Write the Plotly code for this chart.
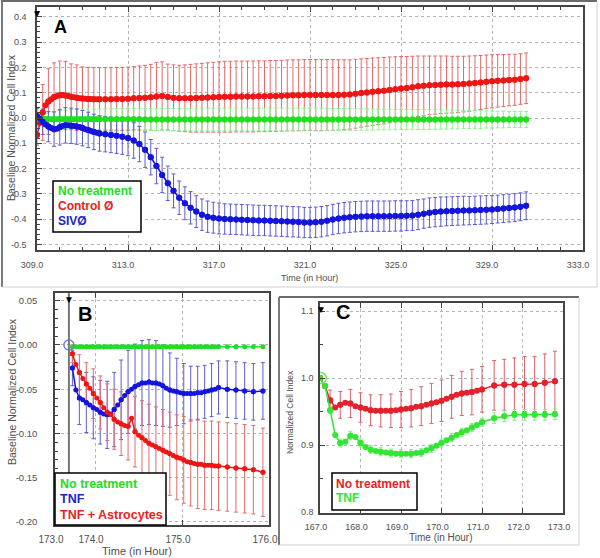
import plotly.graph_objects as go

W, H = 600, 558
FONT = "Liberation Sans, Arial, sans-serif"

# ---------------- Panel A data ----------------
A_TIME_DENSE = [309.0, 309.125, 309.25, 309.375, 309.5, 309.625, 309.75, 309.875,
                310.0, 310.125, 310.25, 310.375, 310.5, 310.625, 310.75, 310.875,
                311.0, 311.125, 311.25, 311.375, 311.5, 311.625, 311.75]
A_TIME_SPARSE = [312.0, 312.25, 312.5, 312.75, 313.0, 313.25, 313.5, 313.75, 314.0, 314.25,
                 314.5, 314.75, 315.0, 315.25, 315.5, 315.75, 316.0, 316.25, 316.5, 316.75,
                 317.0, 317.25, 317.5, 317.75, 318.0, 318.25, 318.5, 318.75, 319.0, 319.25,
                 319.5, 319.75, 320.0, 320.25, 320.5, 320.75, 321.0, 321.25, 321.5, 321.75,
                 322.0, 322.25, 322.5, 322.75, 323.0, 323.25, 323.5, 323.75, 324.0, 324.25,
                 324.5, 324.75, 325.0, 325.25, 325.5, 325.75, 326.0, 326.25, 326.5, 326.75,
                 327.0, 327.25, 327.5, 327.75, 328.0, 328.25, 328.5, 328.75, 329.0, 329.25,
                 329.5, 329.75, 330.0, 330.25, 330.5]
A_TIME = A_TIME_DENSE + A_TIME_SPARSE

A_NO_TREATMENT = [0.0, -0.002, -0.003, -0.004, -0.005, -0.005, -0.005, -0.005, -0.005, -0.005,
                  -0.005, -0.005, -0.005, -0.005, -0.005, -0.005, -0.005, -0.005, -0.005, -0.005,
                  -0.005, -0.005, -0.005,
                  -0.005, -0.005, -0.005, -0.005, -0.005, -0.005, -0.005, -0.006, -0.006, -0.006,
                  -0.006, -0.006, -0.006, -0.006, -0.006, -0.006, -0.006, -0.006, -0.006, -0.006,
                  -0.006, -0.006, -0.006, -0.006, -0.006, -0.006, -0.006, -0.006, -0.006, -0.006,
                  -0.006, -0.006, -0.006, -0.006, -0.006, -0.006, -0.006, -0.006, -0.006, -0.006,
                  -0.006, -0.006, -0.006, -0.006, -0.006, -0.006, -0.006, -0.006, -0.006, -0.006,
                  -0.006, -0.006, -0.006, -0.006, -0.006, -0.006, -0.006, -0.006, -0.006, -0.006,
                  -0.006, -0.006, -0.006, -0.006, -0.006, -0.006, -0.006, -0.006, -0.006, -0.006,
                  -0.006, -0.006, -0.006, -0.006, -0.006]
A_NO_TREATMENT_ERR = [0.005, 0.01, 0.015, 0.02, 0.025, 0.028, 0.03, 0.032, 0.034, 0.035,
                      0.036, 0.037, 0.038, 0.038, 0.039, 0.039, 0.04, 0.04, 0.04, 0.04,
                      0.04, 0.04, 0.04,
                      0.041, 0.041, 0.042, 0.042, 0.042, 0.043, 0.043, 0.043, 0.043, 0.043,
                      0.044, 0.044, 0.044, 0.044, 0.044, 0.044, 0.045, 0.045, 0.045, 0.045,
                      0.045, 0.045, 0.045, 0.045, 0.045, 0.045, 0.045, 0.045, 0.045, 0.045,
                      0.045, 0.045, 0.045, 0.045, 0.045, 0.045, 0.045, 0.045, 0.045, 0.044,
                      0.044, 0.044, 0.043, 0.043, 0.043, 0.042, 0.042, 0.042, 0.041, 0.041,
                      0.041, 0.04, 0.04, 0.04, 0.04, 0.04, 0.04, 0.039, 0.039, 0.038,
                      0.038, 0.037, 0.037, 0.036, 0.036, 0.035, 0.035, 0.034, 0.034, 0.033,
                      0.033, 0.032, 0.032, 0.032, 0.032]
A_CONTROL = [-0.067, -0.02, 0.022, 0.05, 0.065, 0.074, 0.083, 0.087, 0.09, 0.091,
             0.089, 0.087, 0.084, 0.082, 0.080, 0.078, 0.077, 0.076, 0.075, 0.075,
             0.074, 0.074, 0.074,
             0.074, 0.074, 0.075, 0.075, 0.076,
             0.078, 0.079, 0.080, 0.082, 0.085, 0.087,
             0.083, 0.080, 0.078, 0.078, 0.078, 0.079,
             0.080, 0.081, 0.082, 0.083, 0.084, 0.084, 0.085, 0.085, 0.085, 0.085,
             0.086, 0.086, 0.087, 0.087, 0.088, 0.089, 0.090, 0.090,
             0.091, 0.091, 0.091, 0.091, 0.091, 0.091, 0.091, 0.092, 0.093,
             0.096, 0.099, 0.101, 0.104, 0.106, 0.108, 0.111, 0.114, 0.117,
             0.119, 0.122, 0.125, 0.127, 0.129, 0.130, 0.131, 0.132,
             0.132, 0.133, 0.134, 0.136, 0.138, 0.140, 0.143, 0.145, 0.147, 0.148,
             0.150, 0.151, 0.154, 0.157]
A_CONTROL_ERR = [0.04, 0.08, 0.11, 0.125, 0.13, 0.13, 0.135, 0.135, 0.135, 0.135,
                 0.135, 0.135, 0.13, 0.13, 0.13, 0.13, 0.125, 0.125, 0.125, 0.125,
                 0.125, 0.125, 0.125,
                 0.125, 0.125, 0.125, 0.125, 0.125,
                 0.125, 0.127, 0.128, 0.13, 0.135, 0.135,
                 0.13, 0.13, 0.13, 0.132, 0.134, 0.135,
                 0.136, 0.137, 0.138, 0.139, 0.14, 0.14, 0.14, 0.14, 0.14, 0.14,
                 0.14, 0.14, 0.14, 0.14, 0.14, 0.14, 0.14, 0.14,
                 0.14, 0.14, 0.14, 0.14, 0.14, 0.14, 0.139, 0.138, 0.137,
                 0.136, 0.135, 0.134, 0.133, 0.132, 0.131, 0.13, 0.128, 0.126,
                 0.124, 0.122, 0.12, 0.118, 0.116, 0.115, 0.114, 0.113,
                 0.112, 0.111, 0.11, 0.109, 0.108, 0.107, 0.106, 0.105, 0.104, 0.103,
                 0.102, 0.101, 0.1, 0.1]
A_SIV = [0.008, -0.002, -0.015, -0.026, -0.034, -0.040, -0.044, -0.042, -0.037, -0.032,
         -0.029, -0.029, -0.031, -0.032, -0.034, -0.036, -0.040, -0.044, -0.047, -0.051,
         -0.055, -0.058, -0.061,
         -0.064, -0.067, -0.070, -0.074, -0.079,
         -0.089, -0.103, -0.125, -0.155, -0.19, -0.225,
         -0.258, -0.288, -0.315, -0.337, -0.355, -0.37,
         -0.382, -0.39, -0.394, -0.397, -0.399, -0.400, -0.401, -0.402,
         -0.403, -0.404, -0.405, -0.405, -0.406, -0.407, -0.408, -0.409, -0.41, -0.411,
         -0.413, -0.413, -0.412, -0.41, -0.406, -0.401, -0.397, -0.394, -0.392,
         -0.39, -0.389, -0.388, -0.388, -0.388, -0.388, -0.388, -0.387, -0.387,
         -0.386, -0.385, -0.382, -0.378, -0.374, -0.372, -0.370, -0.369,
         -0.368, -0.367, -0.366, -0.366, -0.365, -0.364, -0.363, -0.362, -0.36, -0.358,
         -0.356, -0.354, -0.351, -0.347]
A_SIV_ERR = [0.03, 0.04, 0.05, 0.055, 0.06, 0.065, 0.068, 0.07, 0.07, 0.07,
             0.07, 0.07, 0.07, 0.07, 0.07, 0.07, 0.07, 0.07, 0.07, 0.07,
             0.07, 0.07, 0.07,
             0.07, 0.07, 0.07, 0.07, 0.07, 0.07, 0.07, 0.07, 0.07, 0.07,
             0.07, 0.068, 0.067, 0.066, 0.065, 0.064, 0.063, 0.062, 0.062, 0.061,
             0.061, 0.06, 0.06, 0.06, 0.06, 0.06, 0.06, 0.06, 0.06, 0.06,
             0.06, 0.06, 0.06, 0.06, 0.06, 0.06, 0.06, 0.06, 0.06, 0.06,
             0.06, 0.06, 0.06, 0.06, 0.06, 0.06, 0.06, 0.06, 0.06, 0.06,
             0.06, 0.06, 0.06, 0.059, 0.059, 0.059, 0.058, 0.058, 0.058, 0.058,
             0.057, 0.057, 0.057, 0.057, 0.056, 0.056, 0.056, 0.056, 0.055, 0.055,
             0.055, 0.055, 0.055, 0.055, 0.055]
A_X_TICKS = [309.0, 313.0, 317.0, 321.0, 325.0, 329.0, 333.0]
A_X_LABELS = ["309.0", "313.0", "317.0", "321.0", "325.0", "329.0", "333.0"]
A_Y_TICKS = [0.4, 0.3, 0.2, 0.1, 0.0, -0.1, -0.2, -0.3, -0.4, -0.5]
A_Y_LABELS = ["0.4", "0.3", "0.2", "0.1", "0.0", "-0.1", "-0.2", "-0.3", "-0.4", "-0.5"]

# ---------------- Panel B data ----------------
B_TIME_DENSE = [173.74, 173.78, 173.82, 173.86, 173.90, 173.94, 173.98, 174.02, 174.06, 174.10,
                174.14, 174.18, 174.22, 174.26, 174.30, 174.34, 174.38, 174.42, 174.46, 174.50,
                174.54, 174.58, 174.62, 174.66, 174.70, 174.74, 174.78, 174.82, 174.86, 174.90,
                174.94, 174.98, 175.02, 175.06, 175.10, 175.14, 175.18, 175.22, 175.26, 175.30,
                175.34, 175.38, 175.42]
B_TIME_SPARSE = [175.52, 175.62, 175.72, 175.82, 175.93]
B_TIME = B_TIME_DENSE + B_TIME_SPARSE
B_NO_TREATMENT = [-0.002, -0.002, -0.002, -0.002, -0.002, -0.002, -0.002, -0.002, -0.002, -0.002,
                  -0.002, -0.002, -0.002, -0.002, -0.002, -0.002, -0.002, -0.002, -0.002, -0.002,
                  -0.002, -0.002, -0.002, -0.002, -0.002, -0.002, -0.002, -0.002, -0.002, -0.002,
                  -0.002, -0.002, -0.002, -0.002, -0.002, -0.002, -0.002, -0.002, -0.002, -0.002,
                  -0.002, -0.002, -0.002, -0.002, -0.002, -0.002, -0.002, -0.002]
B_TNF = [-0.026, -0.051, -0.060, -0.062, -0.065, -0.068, -0.071, -0.073, -0.076, -0.078,
         -0.079, -0.078, -0.073, -0.068, -0.062, -0.057, -0.053, -0.050, -0.047, -0.045,
         -0.043, -0.043, -0.042, -0.043, -0.043, -0.044, -0.046, -0.049, -0.051, -0.052,
         -0.053, -0.054, -0.055, -0.055, -0.055, -0.055, -0.054, -0.054, -0.053, -0.052,
         -0.051, -0.050, -0.048, -0.050, -0.051, -0.052, -0.053, -0.052]
B_TNF_ERR = [0.02, 0.025, 0.03, 0.032, 0.034, 0.035, 0.035, 0.036, 0.036, 0.037,
             0.038, 0.04, 0.042, 0.044, 0.045, 0.046, 0.047, 0.048, 0.048, 0.048,
             0.048, 0.048, 0.048, 0.048, 0.048, 0.047, 0.046, 0.044, 0.042, 0.04,
             0.038, 0.036, 0.034, 0.032, 0.031, 0.03, 0.03, 0.03, 0.03, 0.03,
             0.03, 0.03, 0.03, 0.032, 0.032, 0.032, 0.032, 0.032]
B_TNF_ASTRO = [-0.010, -0.022, -0.031, -0.038, -0.044, -0.049, -0.055, -0.060, -0.065, -0.071,
               -0.076, -0.079, -0.084, -0.087, -0.089, -0.091, -0.092, -0.083, -0.098, -0.102,
               -0.105, -0.108, -0.111, -0.113, -0.115, -0.117, -0.119, -0.121, -0.123, -0.125,
               -0.127, -0.128, -0.130, -0.132, -0.133, -0.134, -0.135, -0.135, -0.136, -0.136,
               -0.136, -0.137, -0.137, -0.138, -0.139, -0.140, -0.141, -0.144]
B_TNF_ASTRO_ERR = [0.01, 0.015, 0.02, 0.022, 0.024, 0.026, 0.028, 0.029, 0.03, 0.031,
                   0.032, 0.033, 0.034, 0.035, 0.036, 0.037, 0.038, 0.039, 0.04, 0.041,
                   0.042, 0.043, 0.044, 0.045, 0.045, 0.046, 0.046, 0.047, 0.047, 0.048,
                   0.048, 0.048, 0.049, 0.049, 0.049, 0.05, 0.05, 0.05, 0.05, 0.05,
                   0.05, 0.05, 0.05, 0.05, 0.05, 0.05, 0.05, 0.05]
B_TREAT_TIME = [173.70]
B_TREAT_VALUE = [0.0]
B_X_TICKS = [173.54, 174.0, 175.0, 176.0]
B_X_LABELS = ["173.0", "174.0", "175.0", "176.0"]
B_Y_TICKS = [0.05, 0.0, -0.05, -0.10, -0.15, -0.20]
B_Y_LABELS = ["0.05", "0.00", "-0.05", "-0.10", "-0.15", "-0.20"]

# ---------------- Panel C data ----------------
C_TIME_DENSE = [167.0, 167.125, 167.25, 167.375, 167.5, 167.625, 167.75, 167.875,
                168.0, 168.125, 168.25, 168.375, 168.5, 168.625, 168.75, 168.875,
                169.0, 169.125, 169.25, 169.375, 169.5, 169.625, 169.75, 169.875,
                170.0, 170.125, 170.25, 170.375, 170.5, 170.625, 170.75, 170.875, 171.0]
C_TIME_SPARSE = [171.3, 171.55, 171.8, 172.05, 172.3, 172.55, 172.8]
C_TIME = C_TIME_DENSE + C_TIME_SPARSE
C_NO_TREATMENT = [1.0, 0.988, 0.967, 0.956, 0.960, 0.963, 0.962, 0.958,
                  0.956, 0.954, 0.952, 0.951, 0.951, 0.951, 0.951, 0.952,
                  0.953, 0.954, 0.955, 0.957, 0.958, 0.960, 0.962, 0.964,
                  0.966, 0.969, 0.972, 0.975, 0.977, 0.978, 0.979, 0.981, 0.983,
                  0.989, 0.990, 0.990, 0.991, 0.991, 0.993, 0.995]
C_NO_TREATMENT_ERR = [0.0, 0.008, 0.015, 0.018, 0.02, 0.021, 0.021, 0.022,
                      0.022, 0.023, 0.023, 0.024, 0.024, 0.025, 0.025, 0.026,
                      0.027, 0.027, 0.028, 0.028, 0.029, 0.029, 0.03, 0.03,
                      0.031, 0.031, 0.032, 0.032, 0.033, 0.033, 0.034, 0.034, 0.034,
                      0.037, 0.038, 0.04, 0.041, 0.041, 0.043, 0.045]
C_TNF = [1.0, 0.988, 0.952, 0.915, 0.903, 0.905, 0.914, 0.912,
         0.903, 0.897, 0.893, 0.891, 0.890, 0.889, 0.888, 0.887,
         0.887, 0.887, 0.887, 0.888, 0.889, 0.892, 0.895, 0.899,
         0.903, 0.907, 0.911, 0.915, 0.919, 0.922, 0.926, 0.930, 0.934,
         0.940, 0.943, 0.945, 0.945, 0.945, 0.945, 0.946]
C_TNF_ERR = [0.0, 0.003, 0.005, 0.006, 0.006, 0.006, 0.006, 0.006,
             0.006, 0.006, 0.006, 0.006, 0.006, 0.006, 0.006, 0.006,
             0.006, 0.006, 0.006, 0.006, 0.006, 0.006, 0.006, 0.006,
             0.006, 0.006, 0.006, 0.006, 0.006, 0.006, 0.006, 0.006, 0.006,
             0.008, 0.008, 0.008, 0.008, 0.008, 0.008, 0.008]
C_TREAT_TIME = [167.02]
C_TREAT_VALUE = [1.0]
C_X_TICKS = [167.0, 168.0, 169.0, 170.0, 171.0, 172.0, 173.0]
C_X_LABELS = ["167.0", "168.0", "169.0", "170.0", "171.0", "172.0", "173.0"]
C_Y_TICKS = [1.1, 1.0, 0.9, 0.8]
C_Y_LABELS = ["1.1", "1.0", "0.9", "0.8"]

GREEN, GREEN_ERR = "#22dd22", "#8ef08e"
RED, RED_ERR = "#ee1515", "#e26a6a"
BLUE, BLUE_ERR = "#1414dc", "#5c5cd2"


def px(x, y):
    return x / W, 1 - y / H


def bar_mask(n_dense, n_total):
    return [i >= n_dense or i % 2 == 0 for i in range(n_total)]


err_traces, main_traces = [], []


def series(x, y, err, mask, color, ecolor, size, xa, ya):
    if err is not None:
        xe = [a for a, k in zip(x, mask) if k]
        ye = [a for a, k in zip(y, mask) if k]
        ee = [a for a, k in zip(err, mask) if k]
        err_traces.append(go.Scatter(
            x=xe, y=ye, mode="markers", xaxis=xa, yaxis=ya, showlegend=False,
            marker=dict(size=size, color=color),
            error_y=dict(type="data", array=ee, color=ecolor, thickness=1, width=2)))
    main_traces.append(go.Scatter(
        x=x, y=y, mode="lines+markers", xaxis=xa, yaxis=ya, showlegend=False,
        line=dict(color=color, width=1.5), marker=dict(size=size, color=color)))


mA = bar_mask(len(A_TIME_DENSE), len(A_TIME))
series(A_TIME, A_CONTROL, A_CONTROL_ERR, mA, RED, RED_ERR, 6, "x", "y")
series(A_TIME, A_NO_TREATMENT, A_NO_TREATMENT_ERR, mA, GREEN, GREEN_ERR, 6, "x", "y")
series(A_TIME, A_SIV, A_SIV_ERR, mA, BLUE, BLUE_ERR, 6, "x", "y")

mB = bar_mask(len(B_TIME_DENSE), len(B_TIME))
series(B_TIME, B_NO_TREATMENT, None, mB, GREEN, GREEN_ERR, 5, "x2", "y2")
series(B_TIME, B_TNF, B_TNF_ERR, mB, BLUE, BLUE_ERR, 5, "x2", "y2")
series(B_TIME, B_TNF_ASTRO, B_TNF_ASTRO_ERR, mB, RED, RED_ERR, 5, "x2", "y2")

mC = bar_mask(len(C_TIME_DENSE), len(C_TIME))
series(C_TIME, C_NO_TREATMENT, C_NO_TREATMENT_ERR, mC, "#e3202c", "#d9606a", 6, "x3", "y3")
series(C_TIME, C_TNF, C_TNF_ERR, mC, "#33e633", "#88ee88", 6, "x3", "y3")

fig = go.Figure(err_traces + main_traces)
fig.add_trace(go.Scatter(x=B_TREAT_TIME, y=B_TREAT_VALUE, mode="markers", xaxis="x2", yaxis="y2",
                         showlegend=False,
                         marker=dict(symbol="circle-open", size=10, color="#7080e0",
                                     line=dict(width=1.5))))
fig.add_trace(go.Scatter(x=C_TREAT_TIME, y=C_TREAT_VALUE, mode="markers", xaxis="x3", yaxis="y3",
                         showlegend=False,
                         marker=dict(symbol="circle-open", size=11, color="#77e077",
                                     line=dict(width=1.5))))

TICKF = dict(family=FONT, size=9, color="#505050")
GRID = "#b4b4b4"


def xax(dom, rng, tv, tt, fsize, minor=None, shift=-4, standoff=5):
    d = dict(domain=dom, range=rng, tickmode="array", tickvals=tv, ticktext=tt,
             showgrid=True, gridcolor=GRID, griddash="dot", gridwidth=1,
             zeroline=False, showline=True, linecolor="#444", linewidth=1.5, mirror="ticks",
             ticks="inside", ticklen=5, tickcolor="#444", tickfont=dict(TICKF, size=fsize),
             ticklabelshift=shift, ticklabelstandoff=standoff, automargin=False, fixedrange=True)
    if minor:
        d["minor"] = dict(tickmode="linear", dtick=minor, tick0=0, ticks="inside", ticklen=3,
                          tickcolor="#444", showgrid=False)
    return d


def yax(dom, rng, tv, tt, fsize, minor, standoff):
    return dict(domain=dom, range=rng, tickmode="array", tickvals=tv, ticktext=tt,
                showgrid=True, gridcolor=GRID, griddash="dot", gridwidth=1,
                zeroline=False, showline=True, linecolor="#444", linewidth=1.5, mirror=True,
                ticks="inside", ticklen=5, tickcolor="#444", tickfont=dict(TICKF, size=fsize),
                ticklabelstandoff=standoff, automargin=False, fixedrange=True,
                minor=dict(tickmode="linear", dtick=minor, tick0=0, ticks="inside", ticklen=3,
                           tickcolor="#444", showgrid=False))


layout = dict(
    width=W, height=H, margin=dict(l=0, r=0, t=0, b=0), template="none",
    paper_bgcolor="white", plot_bgcolor="white", showlegend=False,
    font=dict(family=FONT, color="#505050"),
    xaxis=xax([37 / W, 583 / W], [309, 333], A_X_TICKS, A_X_LABELS, 9, minor=1, shift=-5),
    yaxis=yax([1 - 250 / H, 1 - 7 / H], [-0.5217, 0.4387], A_Y_TICKS, A_Y_LABELS, 9, 0.02, 7),
    xaxis2=xax([55 / W, 269 / W], [173.54, 176.0], B_X_TICKS, B_X_LABELS, 10, shift=-4, standoff=4),
    yaxis2=yax([1 - 525 / H, 1 - 293 / H], [-0.2036, 0.0588], B_Y_TICKS, B_Y_LABELS, 9.5, 0.01, 14),
    xaxis3=xax([320 / W, 563 / W], [167, 173], C_X_TICKS, C_X_LABELS, 9, shift=-4, standoff=4),
    yaxis3=yax([1 - 513 / H, 1 - 303 / H], [0.7985, 1.112], C_Y_TICKS, C_Y_LABELS, 9, 0.05, 3),
)
layout["xaxis"]["anchor"] = "y"
layout["yaxis"]["anchor"] = "x"
layout["xaxis2"]["anchor"] = "y2"
layout["yaxis2"]["anchor"] = "x2"
layout["xaxis3"]["anchor"] = "y3"
layout["yaxis3"]["anchor"] = "x3"
fig.update_layout(**layout)

shapes = []


def line(x0, y0, x1, y1, color, width):
    a, b = px(x0, y0)
    c, d = px(x1, y1)
    shapes.append(dict(type="line", xref="paper", yref="paper", x0=a, y0=b, x1=c, y1=d,
                       line=dict(color=color, width=width)))


def box(x0, y0, x1, y1):
    a, b = px(x0, y0)
    c, d = px(x1, y1)
    shapes.append(dict(type="rect", xref="paper", yref="paper", x0=a, y0=b, x1=c, y1=d,
                       fillcolor="white", line=dict(color="black", width=1.5)))


# panel frames
line(1, 1, 597, 1, "#6a6a6a", 2)
line(2, 1, 2, 287, "#7a7a7a", 2)
line(2, 287, 597, 287, "#d0d0d0", 1)
line(597, 1, 597, 287, "#d0d0d0", 1)
line(279, 297, 579, 297, "#6a6a6a", 2)
line(279, 297, 279, 545, "#7a7a7a", 2)
line(279, 545, 579, 545, "#d0d0d0", 1)
line(579, 297, 579, 545, "#d0d0d0", 1)
# treatment line in B
shapes.append(dict(type="line", xref="x2", yref="y2 domain", x0=B_TREAT_TIME[0], x1=B_TREAT_TIME[0],
                   y0=0, y1=1, line=dict(color="#777", width=2)))
# legend boxes
box(53, 181, 141, 232)
box(55, 473, 166, 525)
box(332, 473, 417, 510)
fig.update_layout(shapes=shapes)

ann = []


def text(x, y, s, size, color, bold=False, anchor="left", angle=0):
    a, b = px(x, y)
    ann.append(dict(x=a, y=b, xref="paper", yref="paper", text=("<b>%s</b>" % s) if bold else s,
                    showarrow=False, xanchor=anchor, yanchor="middle", textangle=angle,
                    font=dict(family=FONT, size=size, color=color)))


text(60, 27, "A", 18, "black", True, "center")
text(85, 314, "B", 20, "black", True, "center")
text(343, 312, "C", 20, "black", True, "center")

text(56, 191, "No treatment", 12, GREEN, True)
text(56, 206, "Control Ø", 12, "#e52222", True)
text(56, 221, "SIVØ", 12, "#2222cc", True)

text(58, 484, "No treatment", 12.5, GREEN, True)
text(58, 499, "TNF", 12.5, "#2222cc", True)
text(58, 515, "TNF + Astrocytes", 12.5, "#e52222", True)

text(334, 484, "No treatment", 12, "#e52222", True)
text(334, 498, "TNF", 12, "#33e633", True)

text(11, 128, "Baseline Normalized Cell Index", 10.5, "#505050", anchor="center", angle=-90)
text(12, 392, "Baseline Normalized Cell Index", 10.5, "#505050", anchor="center", angle=-90)
text(290, 412, "Normalized Cell Index", 8.5, "#505050", anchor="center", angle=-90)
text(309, 278, "Time (in Hour)", 9, "#505050", anchor="center")
text(137, 551, "Time (in Hour)", 11, "#505050", anchor="center")
text(441, 537, "Time (in Hour)", 10, "#505050", anchor="center")

# treatment markers
for xr, yr, xv in [("x", "y domain", A_TIME[0]), ("x2", "y2 domain", B_TREAT_TIME[0]),
                   ("x3", "y3 domain", C_TREAT_TIME[0])]:
    ann.append(dict(x=xv, y=1.005, xref=xr, yref=yr, text="▼", showarrow=False, yanchor="top",
                    xanchor="center", font=dict(size=10, color="black")))

fig.update_layout(annotations=ann)
fig.write_html("out.html", config={"displayModeBar": False},
               post_script="document.body.style.margin='0';document.body.style.overflow='hidden';")
